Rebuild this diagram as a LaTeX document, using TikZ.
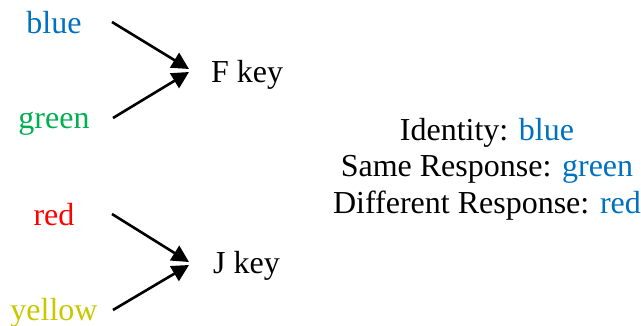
\documentclass[tikz,border=0pt]{standalone}
\usepackage{fontspec}
\setmainfont{Liberation Serif}
\usetikzlibrary{arrows.meta}
\definecolor{cblue}{HTML}{0070C0}
\definecolor{cgreen}{HTML}{00B050}
\definecolor{cred}{HTML}{FF0000}
\definecolor{cyellow}{HTML}{C8C800}

\begin{document}
\begin{tikzpicture}[
  x=1pt, y=1pt,
  every node/.style={inner sep=0pt, font=\fontsize{32}{36.5}\selectfont},
  word/.style={anchor=base},
  arrow/.style={draw, line width=2.6pt, -{Triangle[length=17pt, width=17pt]}}]

  \useasboundingbox (0,0) rectangle (641,-325);

  % colour words
  \node[word, text=cblue]   (blue)   at (54,-33)  {blue};
  \node[word, text=cgreen]  (green)  at (54,-128) {green};
  \node[word, text=cred]    (red)    at (54,-225) {red};
  \node[word, text=cyellow] (yellow) at (54,-320) {yellow};

  % keys
  \node[word, anchor=base west] (fkey) at (211,-82)  {F key};
  \node[word, anchor=base west] (jkey) at (213,-273) {J key};

  % arrow ends
  \coordinate (bs) at (112,-22);
  \coordinate (gs) at (113,-118);
  \coordinate (rs) at (112,-214);
  \coordinate (ys) at (113,-310);
  \coordinate (bt) at (189,-69);
  \coordinate (gt) at (189,-72);
  \coordinate (rt) at (189,-262);
  \coordinate (yt) at (189,-265);

  \draw[arrow] (bs) -- (bt);
  \draw[arrow] (gs) -- (gt);
  \draw[arrow] (rs) -- (rt);
  \draw[arrow] (ys) -- (yt);

  % mapping
  \node[anchor=base, align=center] (legend) at (487,-213)
    {Identity: \textcolor{cblue}{blue}\\
     Same Response: \textcolor{cblue}{green}\\
     Different Response: \textcolor{cblue}{red}};
\end{tikzpicture}
\end{document}
